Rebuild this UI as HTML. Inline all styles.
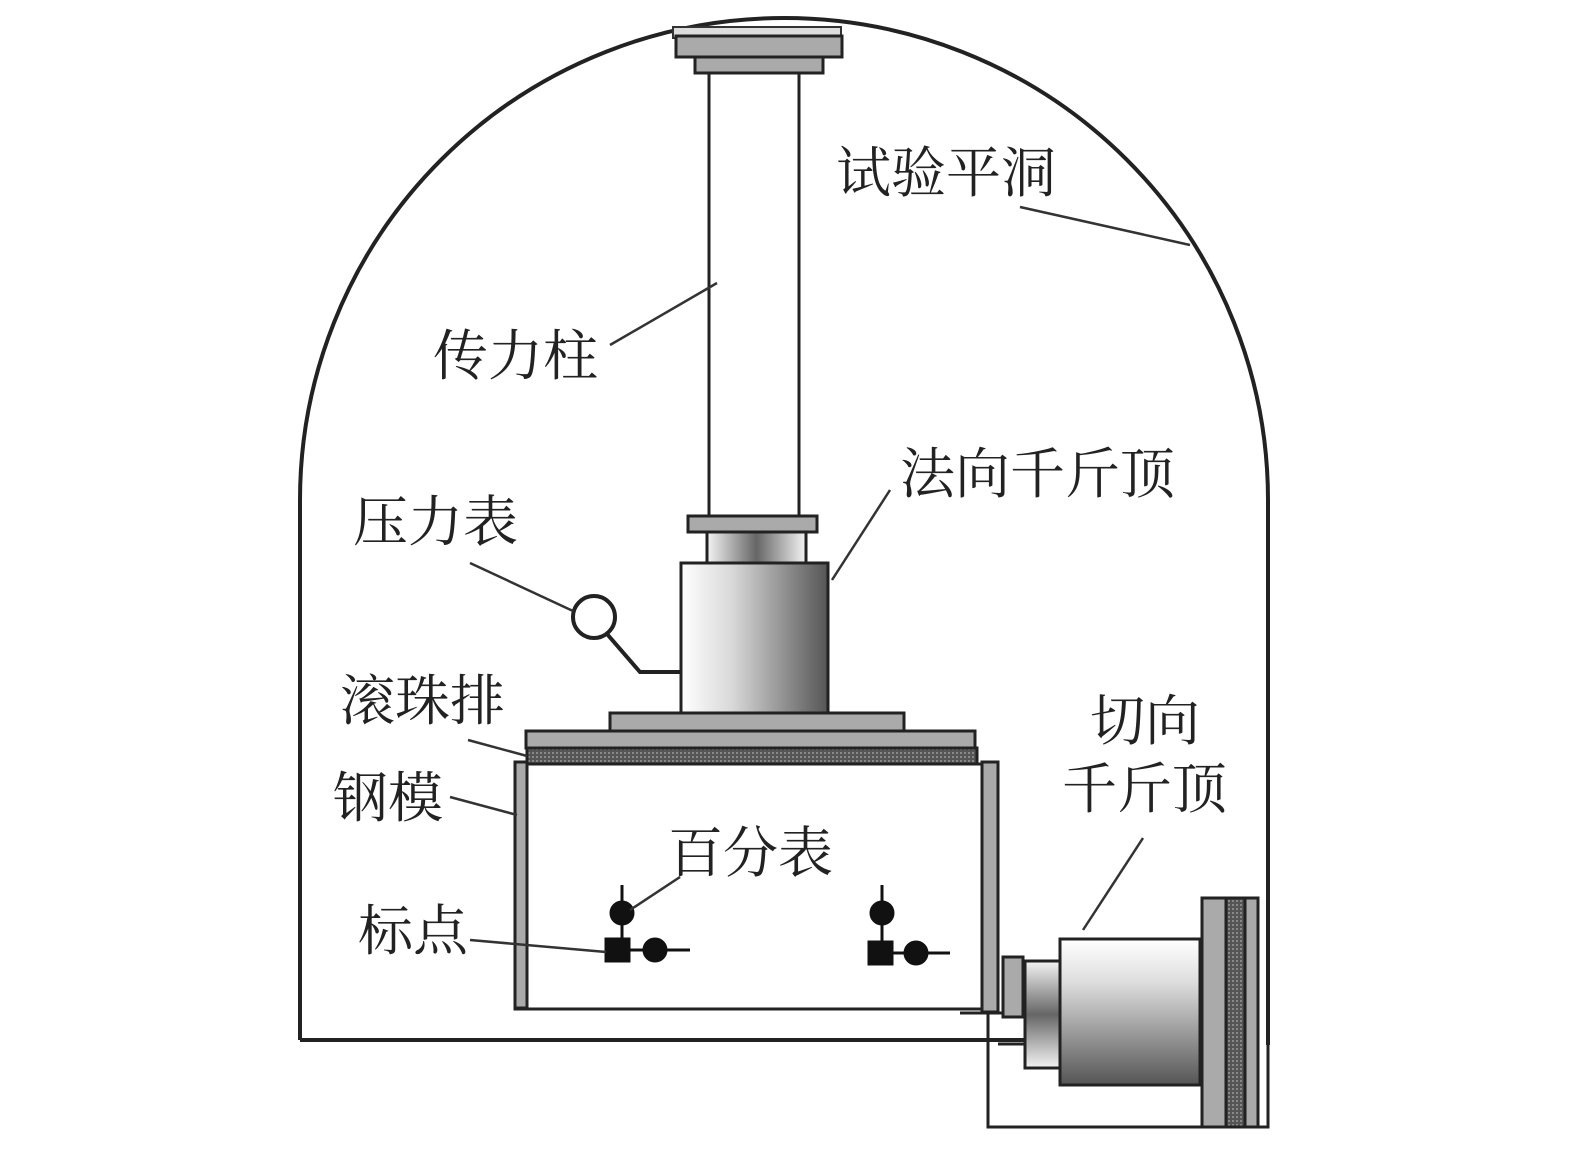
<!DOCTYPE html>
<html><head><meta charset="utf-8"><style>
html,body{margin:0;padding:0;background:#fff;}
svg{display:block}
text{font-family:"Liberation Serif","Noto Serif CJK SC",serif;font-size:55px;fill:#222}
</style></head><body>
<svg width="1575" height="1152" viewBox="0 0 1575 1152" xmlns="http://www.w3.org/2000/svg">
<defs>
<linearGradient id="gh" x1="0" x2="1" y1="0" y2="0"><stop offset="0" stop-color="#fff"/><stop offset="0.35" stop-color="#d8d8d8"/><stop offset="1" stop-color="#555"/></linearGradient>
<linearGradient id="gn" x1="0" x2="1"><stop offset="0" stop-color="#f4f4f4"/><stop offset="0.5" stop-color="#666"/><stop offset="1" stop-color="#f4f4f4"/></linearGradient>
<linearGradient id="gv" x1="0" x2="0" y1="0" y2="1"><stop offset="0" stop-color="#fff"/><stop offset="0.3" stop-color="#ddd"/><stop offset="1" stop-color="#555"/></linearGradient>
<linearGradient id="gnv" x1="0" x2="0" y1="0" y2="1"><stop offset="0" stop-color="#f4f4f4"/><stop offset="0.5" stop-color="#666"/><stop offset="1" stop-color="#f4f4f4"/></linearGradient>
<pattern id="hatch" width="4" height="4" patternUnits="userSpaceOnUse"><rect width="4" height="4" fill="#555"/><rect width="2" height="2" fill="#888"/></pattern>
</defs>
<g fill="none" stroke="#222" stroke-width="4">
<path d="M300 1040 L300 500 A484 482 0 0 1 1268 500 L1268 1045"/>
<path d="M300 1040 L1025 1040"/>
<path d="M960 1013 L1003 1013 M998 1044 L1025 1044" stroke-width="3"/>
<path d="M988 1010 L988 1127 L1205 1127" stroke-width="3"/>
<path d="M1268 1045 L1268 1127 L1258 1127" stroke-width="3"/>
</g>
<rect x="673" y="27" width="168" height="11" fill="#ddd" stroke="#333" stroke-width="2"/>
<rect x="676" y="36" width="166" height="21" fill="#aaa" stroke="#222" stroke-width="3"/>
<rect x="695" y="57" width="128" height="16" fill="#aaa" stroke="#222" stroke-width="3"/>
<line x1="709" y1="73" x2="709" y2="516" stroke="#222" stroke-width="3"/>
<line x1="799" y1="73" x2="799" y2="516" stroke="#222" stroke-width="3"/>
<rect x="688" y="516" width="129" height="16" fill="#aaa" stroke="#222" stroke-width="3"/>
<rect x="707" y="532" width="99" height="31" fill="url(#gn)" stroke="#222" stroke-width="3"/>
<rect x="681" y="563" width="147" height="150" fill="url(#gh)" stroke="#222" stroke-width="3"/>
<rect x="610" y="713" width="294" height="18" fill="#aaa" stroke="#222" stroke-width="3"/>
<rect x="526" y="731" width="449" height="17" fill="#aaa" stroke="#222" stroke-width="3"/>
<rect x="527" y="748" width="450" height="16" fill="url(#hatch)" stroke="#222" stroke-width="3"/>
<rect x="515" y="764" width="483" height="245" fill="none" stroke="#222" stroke-width="3"/>
<rect x="515" y="762" width="12" height="246" fill="#aaa" stroke="#222" stroke-width="3"/>
<rect x="982" y="762" width="16" height="250" fill="#aaa" stroke="#222" stroke-width="3"/>
<circle cx="594" cy="617" r="21" fill="#fff" stroke="#222" stroke-width="4"/>
<path d="M607 634 L640 672 L681 672" fill="none" stroke="#222" stroke-width="4"/>
<rect x="1003" y="957" width="20" height="60" fill="#aaa" stroke="#222" stroke-width="3"/>
<rect x="1025" y="961" width="35" height="107" fill="url(#gnv)" stroke="#222" stroke-width="3"/>
<rect x="1060" y="939" width="140" height="146" fill="url(#gv)" stroke="#222" stroke-width="3"/>
<rect x="1202" y="898" width="56" height="229" fill="#aaa" stroke="#222" stroke-width="3"/>
<rect x="1226" y="898" width="19" height="229" fill="url(#hatch)" stroke="#222" stroke-width="3"/>
<g stroke="#111" stroke-width="3" fill="#111">
<line x1="622" y1="885" x2="622" y2="948"/><circle cx="622" cy="913" r="11"/>
<rect x="606" y="939" width="23" height="22"/><line x1="629" y1="950" x2="690" y2="950"/><circle cx="655" cy="950" r="11"/>
<line x1="882" y1="885" x2="882" y2="950"/><circle cx="882" cy="913" r="11"/>
<rect x="869" y="942" width="23" height="22"/><line x1="892" y1="953" x2="950" y2="953"/><circle cx="916" cy="953" r="11"/>
</g>
<g stroke="#333" stroke-width="2.5" fill="none">
<path d="M1020 207 L1190 245"/>
<path d="M610 345 L717 283"/>
<path d="M890 490 L832 580"/>
<path d="M470 563 L573 611"/>
<path d="M468 740 L527 756"/>
<path d="M450 797 L517 815"/>
<path d="M680 877 L630 910"/>
<path d="M470 940 L606 952"/>
<path d="M1143 838 L1083 930"/>
</g>
<g>
<text x="836" y="192">试验平洞</text>
<text x="433" y="375">传力柱</text>
<text x="900" y="493">法向千斤顶</text>
<text x="353" y="541">压力表</text>
<text x="340" y="720">滚珠排</text>
<text x="333" y="817">钢模</text>
<text x="668" y="872">百分表</text>
<text x="358" y="950">标点</text>
<text x="1090" y="740">切向</text>
<text x="1062" y="808">千斤顶</text>
</g>
</svg>
</body></html>
